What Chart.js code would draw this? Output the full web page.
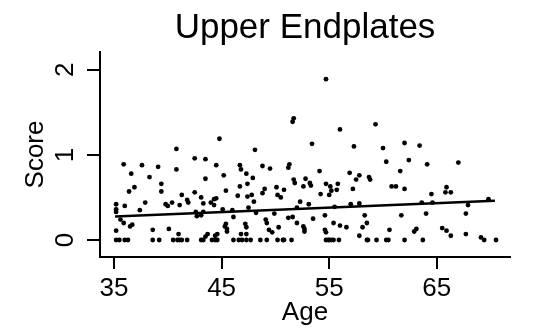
<!DOCTYPE html>
<html>
<head>
    <title>Upper Endplates</title>
    <script src="https://cdn.jsdelivr.net/npm/chart.js"></script>
    <style>
        html, body { margin: 0; padding: 0; background: #fff; }
    </style>
</head>
<body>
    <canvas id="endplateChart" width="538" height="328"></canvas>

    <script>
        // scatter points with a non-zero score (age, score)
        var ages = [
            44.8, 40.8, 42.5, 43.5, 35.9, 37.6, 39.1, 44.5, 40.8, 36.6, 38.3, 45.2, 43.5, 39.4, 36.9, 36.4,
            39.4, 45.4, 42.5, 41.3, 43.1, 41.8, 41.9, 44.5, 44.3, 37.9, 39.8, 40.0, 40.4, 41.1, 43.3, 44.0,
            44.3, 35.2, 36.0, 37.4, 35.2, 35.2, 42.6, 42.7, 43.1, 43.3, 35.6, 35.9, 36.5, 36.7, 45.4, 45.3,
            35.2, 38.6, 40.1, 41.0, 43.7, 43.5, 44.6, 44.4, 45.5,
            54.7, 51.7, 51.6, 56.0, 53.4, 57.3, 48.1, 46.7, 46.8, 48.8, 49.5, 51.3, 51.2, 54.1, 56.9, 47.3,
            47.9, 51.7, 51.8, 52.8, 53.2, 53.3, 52.6, 57.5, 57.8, 54.7, 55.1, 55.8, 55.7, 55.2, 57.2, 46.7,
            47.4, 46.5, 47.4, 47.8, 48.0, 48.8, 49.0, 50.1, 50.2, 50.5, 50.8, 52.3, 53.1, 54.2, 55.0, 47.5,
            52.0, 55.5, 57.0, 57.8, 45.1, 46.0, 46.1, 48.2, 49.9, 54.6, 58.3, 45.5, 47.2, 47.3, 46.8, 47.3,
            49.1, 49.2, 49.4, 49.7, 50.3, 51.2, 51.6, 52.0, 52.6, 52.7, 52.7, 53.5, 54.6, 54.7, 55.4, 56.0,
            56.6, 58.1, 58.5, 57.8,
            59.3, 62.0, 63.4, 60.0, 60.3, 62.4, 64.1, 67.0, 61.6, 58.7, 58.8, 60.8, 61.2, 62.0, 65.9, 65.8,
            66.3, 64.5, 63.6, 64.6, 67.9, 69.8, 61.7, 64.0, 67.7, 60.6, 62.9, 63.1, 65.5, 65.9, 66.3, 67.7,
            69.1
        ];
        var scores = [
            1.19, 1.07, 0.96, 0.95, 0.89, 0.88, 0.86, 0.88, 0.83, 0.78, 0.74, 0.76, 0.72, 0.66, 0.62, 0.57,
            0.57, 0.58, 0.56, 0.53, 0.50, 0.47, 0.44, 0.49, 0.48, 0.44, 0.42, 0.40, 0.44, 0.41, 0.43, 0.44,
            0.41, 0.42, 0.40, 0.35, 0.36, 0.33, 0.33, 0.28, 0.29, 0.33, 0.24, 0.20, 0.16, 0.18, 0.19, 0.16,
            0.11, 0.12, 0.13, 0.07, 0.07, 0.04, 0.07, 0.05, 0.10,
            1.89, 1.43, 1.39, 1.30, 1.13, 1.10, 1.06, 0.88, 0.83, 0.87, 0.84, 0.89, 0.85, 0.81, 0.79, 0.78,
            0.73, 0.71, 0.67, 0.72, 0.67, 0.64, 0.63, 0.71, 0.76, 0.66, 0.63, 0.66, 0.59, 0.58, 0.60, 0.63,
            0.66, 0.52, 0.51, 0.53, 0.45, 0.55, 0.60, 0.62, 0.53, 0.50, 0.59, 0.45, 0.42, 0.54, 0.53, 0.38,
            0.38, 0.39, 0.42, 0.43, 0.36, 0.35, 0.27, 0.32, 0.31, 0.29, 0.29, 0.13, 0.19, 0.15, 0.07, 0.07,
            0.24, 0.20, 0.12, 0.09, 0.15, 0.26, 0.27, 0.20, 0.16, 0.13, 0.10, 0.25, 0.12, 0.09, 0.20, 0.17,
            0.15, 0.15, 0.20, 0.05,
            1.36, 1.14, 1.11, 1.08, 0.92, 0.94, 0.89, 0.91, 0.81, 0.74, 0.71, 0.63, 0.63, 0.60, 0.62, 0.56,
            0.56, 0.54, 0.44, 0.44, 0.41, 0.48, 0.29, 0.31, 0.31, 0.12, 0.10, 0.13, 0.14, 0.11, 0.05, 0.07,
            0.03
        ];
        // ages of the subjects with a score of exactly 0
        var zeroScoreAges = [
            35.2, 35.5, 36.0, 36.3, 38.6, 39.2, 40.5, 40.9, 41.1, 41.3, 41.8, 43.1, 43.3, 44.1, 44.4, 44.6,
            46.1, 46.6, 46.9, 47.3, 47.7, 48.6, 49.2, 50.2, 50.7, 50.8, 51.5, 54.7, 54.9, 55.0, 55.2, 55.4,
            55.9, 58.5, 58.6, 59.4, 60.3, 60.5, 62.0, 63.7, 69.4, 70.5
        ];
        // fitted line end points
        var fitAges = [35.1, 70.4];
        var fitScores = [0.275, 0.46];

        var xTickValues = [35, 45, 55, 65];
        var yTickValues = [0, 1, 2];

        var points = ages.map(function(a, i) { return { x: a, y: scores[i] }; });
        zeroScoreAges.forEach(function(a) { points.push({ x: a, y: 0 }); });
        var fitPoints = fitAges.map(function(a, i) { return { x: a, y: fitScores[i] }; });

        var labelFont = { family: "'Liberation Sans', Arial, sans-serif", size: 26 };

        const ctx = document.getElementById('endplateChart').getContext('2d');
        window.myChart = new Chart(ctx, {
            type: 'scatter',
            data: {
                datasets: [{
                    label: 'Score',
                    data: points,
                    backgroundColor: '#000',
                    borderWidth: 0,
                    pointRadius: 2.4
                }, {
                    type: 'line',
                    label: 'Fit',
                    data: fitPoints,
                    borderColor: '#000',
                    borderWidth: 2.5,
                    pointRadius: 0,
                    fill: false
                }]
            },
            options: {
                responsive: false,
                animation: false,
                layout: { padding: { right: 28 } },
                plugins: {
                    legend: { display: false },
                    tooltip: { enabled: false },
                    title: {
                        display: true,
                        text: 'Upper Endplates',
                        fullSize: false,
                        color: '#000',
                        font: { family: "'Liberation Sans', Arial, sans-serif", size: 35, weight: 'normal' },
                        padding: { top: 7, bottom: 3 }
                    }
                },
                scales: {
                    x: {
                        type: 'linear',
                        min: 33.7,
                        max: 71.8,
                        afterBuildTicks: function(scale) {
                            scale.ticks = xTickValues.map(function(v) { return { value: v }; });
                        },
                        afterFit: function(scale) { scale.height = 71; },
                        grid: { drawOnChartArea: false, drawTicks: true, tickLength: 12, color: '#000', lineWidth: 2 },
                        border: { color: '#000', width: 2 },
                        ticks: { color: '#000', font: labelFont, padding: 4, maxRotation: 0 },
                        title: { display: true, text: 'Age', color: '#000', font: labelFont, padding: { top: 0, bottom: 0 } }
                    },
                    y: {
                        min: -0.2,
                        max: 2.21,
                        afterBuildTicks: function(scale) {
                            scale.ticks = yTickValues.map(function(v) { return { value: v }; });
                        },
                        afterFit: function(scale) { scale.width = 100; },
                        grid: { drawOnChartArea: false, drawTicks: true, tickLength: 13, color: '#000', lineWidth: 2 },
                        border: { color: '#000', width: 2 },
                        ticks: { color: '#000', font: labelFont, padding: 14, minRotation: 90, maxRotation: 90, crossAlign: 'center' },
                        title: { display: true, text: 'Score', color: '#000', font: labelFont, padding: { top: 20, bottom: 0 } }
                    }
                }
            }
        });
    </script>
</body>
</html>
